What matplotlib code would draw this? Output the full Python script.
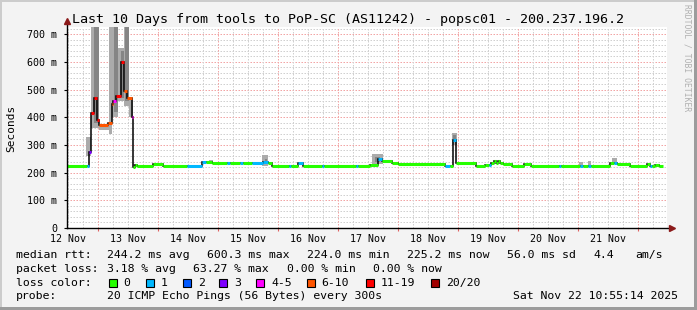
import numpy as np
import matplotlib.pyplot as plt
from matplotlib.patches import Rectangle

plt.rcParams['font.family'] = 'DejaVu Sans Mono'

W, H = 697, 310

# median rtt in ms as steps: start hour (since graph start), value, loss bucket index
step_hour = [0.0, 8.0, 8.6, 9.6, 10.6, 12.0, 12.6, 16.4, 17.8, 18.4,
             19.4, 21.6, 22.8, 23.8, 26.0, 26.4, 27.2, 28.0, 34.4, 38.4,
             48.0, 54.0, 55.6, 58.0, 64.0, 65.2, 69.2, 70.4, 74.0, 78.4,
             80.4, 82.0, 88.8, 89.6, 92.4, 94.4, 102.0, 102.8, 115.6, 116.4,
             121.2, 124.4, 126.0, 130.0, 132.4, 151.2, 153.2, 154.4, 155.6, 163.6,
             167.2, 168.8, 169.6, 170.8, 171.6, 172.4, 173.2, 174.4, 178.0, 182.8,
             185.6, 196.8, 197.6, 205.2, 206.4, 208.4, 209.6, 217.2, 218.8, 220.0,
             225.2, 232.0, 233.2, 234.0, 235.2, 236.8]
step_ms = [225, 225, 276, 415, 471, 390, 372, 380, 448, 459,
           475, 601, 496, 469, 402, 222, 229, 225, 232, 225,
           225, 237, 237, 233, 233, 233, 233, 233, 233, 238,
           233, 225, 225, 225, 234, 225, 225, 225, 225, 225,
           229, 248, 242, 236, 232, 225, 225, 318, 234, 225,
           229, 229, 236, 242, 236, 243, 236, 230, 225, 230,
           225, 225, 225, 225, 225, 225, 225, 236, 236, 232,
           225, 230, 225, 225, 229, 225]
step_loss = [0, 1, 3, 6, 6, 6, 5, 5, 5, 4,
             6, 6, 5, 5, 4, 0, 0, 0, 0, 0,
             1, 1, 0, 0, 1, 0, 1, 0, 1, 1,
             0, 0, 1, 0, 1, 0, 1, 0, 1, 0,
             0, 1, 0, 0, 0, 1, 0, 1, 0, 0,
             0, 1, 0, 0, 0, 0, 0, 0, 0, 0,
             0, 1, 0, 1, 0, 1, 0, 0, 1, 0,
             0, 0, 1, 0, 0, 0]
end_hour = 238.4

# smoke (spread of the 20 pings): start hour, end hour, low ms, high ms
smoke_start = [7.6, 9.6, 12.7, 16.6, 18.0, 20.5, 22.7, 24.8, 26.4, 56.8,
               78.0, 122.0, 154.0, 204.8, 208.4, 218.0]
smoke_end = [9.6, 12.7, 16.6, 18.0, 20.5, 22.7, 24.8, 26.4, 27.6, 58.4,
             80.4, 126.4, 156.0, 206.4, 209.6, 220.0]
smoke_lo = [260, 360, 355, 340, 400, 460, 440, 400, 215, 230,
            225, 232, 300, 222, 222, 230]
smoke_hi = [330, 800, 372, 800, 800, 650, 800, 470, 232, 245,
            262, 268, 342, 240, 242, 252]
core_start = [10.6, 18.6, 21.6, 23.0, 79.0, 123.0, 154.4]
core_end = [12.7, 20.4, 22.8, 24.8, 80.0, 125.0, 155.6]
core_lo = [380, 420, 470, 460, 235, 240, 310]
core_hi = [800, 800, 640, 800, 250, 258, 335]

loss_labels = ['0', '1', '2', '3', '4-5', '6-10', '11-19', '20/20']
loss_colors = ['#26ff00', '#00b8ff', '#0059ff', '#7e00ff',
               '#ff00ff', '#ff5500', '#ff0000', '#a10000']

day_labels = ['12 Nov', '13 Nov', '14 Nov', '15 Nov', '16 Nov',
              '17 Nov', '18 Nov', '19 Nov', '20 Nov', '21 Nov']


def fx(x):
    return x / W


def fy(y):
    return 1 - y / H


fig = plt.figure(figsize=(W / 100, H / 100), dpi=100, facecolor='#f3f3f3')
ax = fig.add_axes([fx(67), fy(228), 600 / W, 201 / H])
ax.set_facecolor('white')
ax.set_xlim(0, 240)
ax.set_ylim(0, 726)
for s in ax.spines.values():
    s.set_visible(False)

# grid
for v in range(20, 726, 20):
    if v % 100 == 0:
        ax.axhline(v, color='#f2a5a5', lw=0.72, ls=(0, (1.5, 1.5)), zorder=0)
    else:
        ax.axhline(v, color='#d0d0d0', lw=0.72, ls=(0, (1.5, 1.5)), zorder=0)
for h in np.arange(0.5, 240, 6):
    if (h - 12.5) % 24 == 0:
        ax.axvline(h, color='#f2a5a5', lw=0.72, ls=(0, (1.5, 1.5)), zorder=0)
    else:
        ax.axvline(h, color='#d0d0d0', lw=0.72, ls=(0, (1.5, 1.5)), zorder=0)

# smoke
sw = np.array(smoke_end) - np.array(smoke_start)
ax.bar(smoke_start, np.array(smoke_hi) - np.array(smoke_lo), width=sw,
       bottom=smoke_lo, align='edge', color='#ababab', lw=0, zorder=1)
cw = np.array(core_end) - np.array(core_start)
ax.bar(core_start, np.array(core_hi) - np.array(core_lo), width=cw,
       bottom=core_lo, align='edge', color='#858585', lw=0, zorder=1)

# median line
edges = step_hour + [end_hour]
ax.stairs(step_ms, edges, color='black', lw=1.1, baseline=None, zorder=2)
ax.hlines(step_ms, step_hour, edges[1:],
          colors=[loss_colors[i] for i in step_loss], lw=2.2, zorder=3)

# axes with arrows
ax.plot([0, 1.009], [0, 0], transform=ax.transAxes, color='black', lw=1,
        clip_on=False, zorder=4)
ax.plot([0, 0], [0, 1.03], transform=ax.transAxes, color='black', lw=1,
        clip_on=False, zorder=4)
ax.plot([1.009], [0], transform=ax.transAxes, marker='>', ms=5,
        color='#8b1a1a', clip_on=False, zorder=5)
ax.plot([0], [1.03], transform=ax.transAxes, marker='^', ms=5,
        color='#8b1a1a', clip_on=False, zorder=5)

# ticks
ax.set_yticks(range(0, 701, 100))
ax.set_yticklabels(['0'] + [f'{v} m' for v in range(100, 701, 100)])
ax.tick_params(axis='y', length=2, width=0.8, pad=5, labelsize=7.2,
               colors='black')
ax.set_xticks(np.arange(0.5, 240, 24))
ax.set_xticklabels(day_labels)
ax.tick_params(axis='x', length=0, pad=4, labelsize=7.2)
ax.set_xticks(np.arange(12.5, 240, 24), minor=True)
ax.tick_params(axis='x', which='minor', length=2, width=0.8, color='#e06060')

fig.text(fx(348), fy(19), 'Last 10 Days from tools to PoP-SC (AS11242) - popsc01 - 200.237.196.2',
         ha='center', va='center', fontsize=9.6)
fig.text(fx(11), fy(128), 'Seconds', rotation=90, ha='center', va='center',
         fontsize=8)
fig.text(fx(687), fy(58), 'RRDTOOL / TOBI OETIKER', rotation=270,
         ha='center', va='center', fontsize=5.8, color='#b0b0b0')

# legend block
fs = 8.25
rows = [
    (258.3, [(16, 'median rtt:'), (107, '244.2 ms avg'), (207, '600.3 ms max'),
             (307, '224.0 ms min'), (407, '225.2 ms now'), (507, '56.0 ms sd'),
             (593, '4.4'), (635, 'am/s')]),
    (272.0, [(16, 'packet loss:'), (107, '3.18 % avg'), (193, '63.27 % max'),
             (287, '0.00 % min'), (373, '0.00 % now')]),
    (285.7, [(16, 'loss color:')]),
    (299.3, [(16, 'probe:'), (107, '20 ICMP Echo Pings (56 Bytes) every 300s'),
             (513, 'Sat Nov 22 10:55:14 2025')]),
]
for yb, items in rows:
    for xp, t in items:
        fig.text(fx(xp), fy(yb), t, ha='left', va='baseline', fontsize=fs)

box_x = [108.7, 145.7, 182.7, 219.3, 256, 306.7, 365.7, 430.7]
for bx, lab, col in zip(box_x, loss_labels, loss_colors):
    fig.add_artist(Rectangle((fx(bx), fy(287)), 8 / W, 8.5 / H,
                             transform=fig.transFigure, facecolor=col,
                             edgecolor='black', lw=0.8))
    fig.text(fx(bx + 15), fy(285.7), lab, ha='left', va='baseline', fontsize=fs)

# frame
fig.add_artist(Rectangle((0, fy(2)), 1, 2 / H, transform=fig.transFigure,
                         facecolor='#cccccc', lw=0))
fig.add_artist(Rectangle((0, 0), 2 / W, 1, transform=fig.transFigure,
                         facecolor='#cccccc', lw=0))
fig.add_artist(Rectangle((0, 0), 1, 3 / H, transform=fig.transFigure,
                         facecolor='#9c9c9c', lw=0))
fig.add_artist(Rectangle((fx(694), 0), 3 / W, 1, transform=fig.transFigure,
                         facecolor='#9c9c9c', lw=0))

fig.savefig('out.png', dpi=100, facecolor=fig.get_facecolor())
